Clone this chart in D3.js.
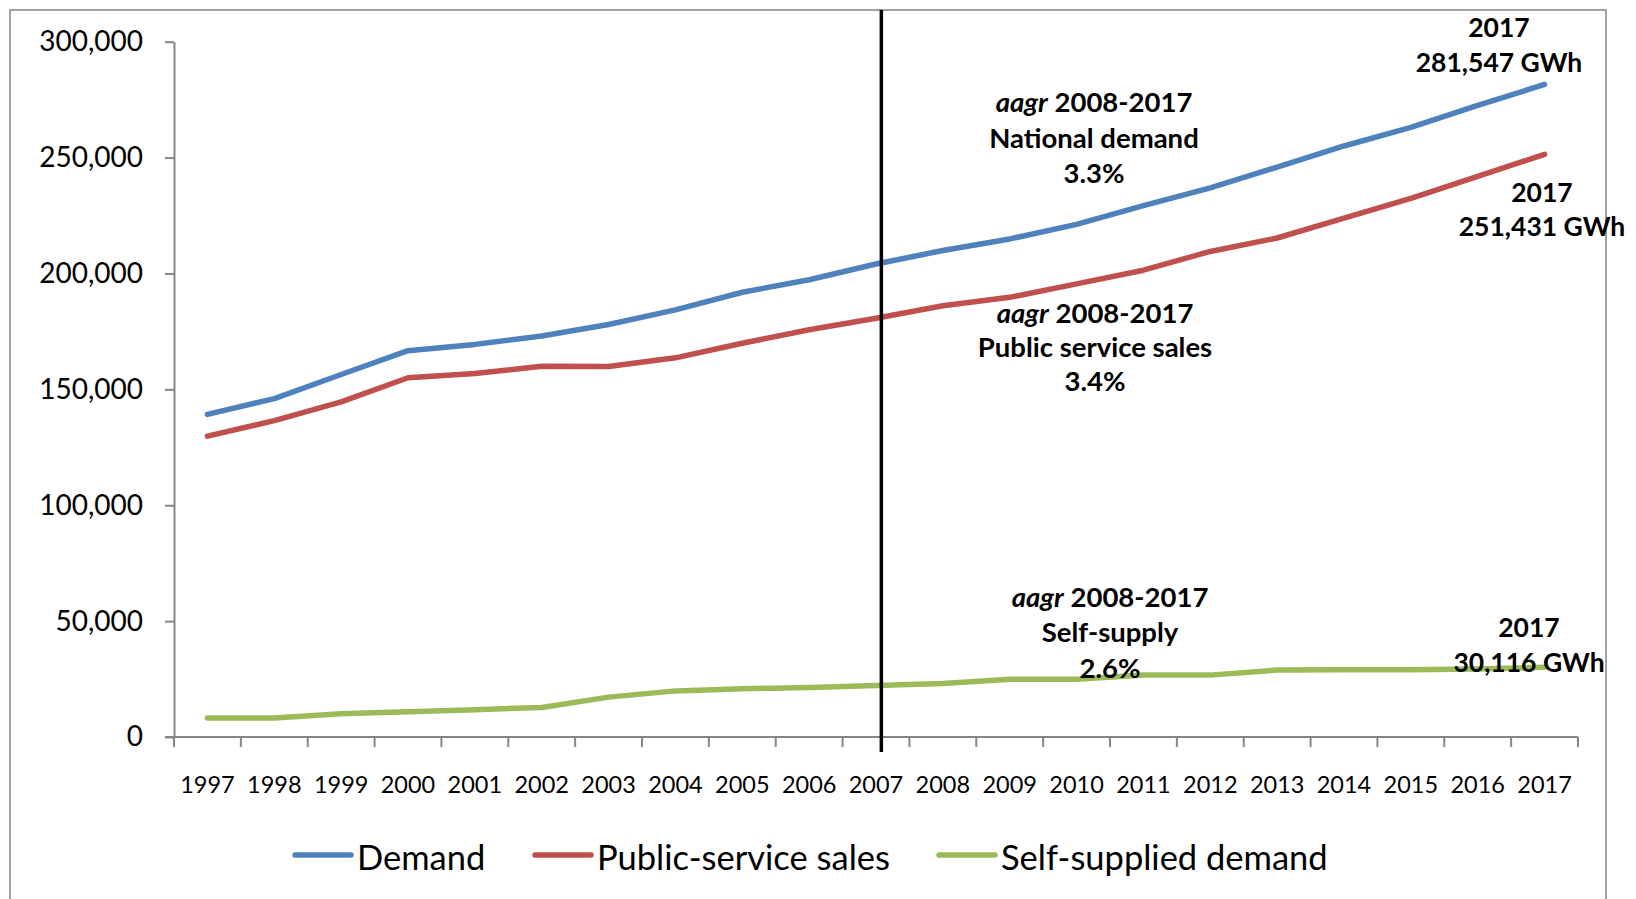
<!DOCTYPE html>
<html>
<head>
<meta charset="utf-8">
<script src="https://cdnjs.cloudflare.com/ajax/libs/d3/7.8.5/d3.min.js"></script>
<style>
  html, body { margin: 0; padding: 0; background: #fff; }
  svg { display: block; font-family: Lato, "Open Sans", sans-serif; }
</style>
</head>
<body>
<div class="graph"></div>
<script>
// values in GWh
var years = [1997,1998,1999,2000,2001,2002,2003,2004,2005,2006,2007,2008,2009,2010,2011,2012,2013,2014,2015,2016,2017];
var demand = [139200,146000,156400,166700,169400,173000,178000,184300,191900,197300,204100,209900,214900,221200,229300,236900,245900,255000,263000,272500,281547];
var publicSales = [129800,136500,144600,155000,156800,160000,159900,163600,169900,175700,180700,186100,189700,195500,201400,209500,215300,223900,232400,241900,251431];
var selfSupply = [8200,8200,10000,10900,11800,12700,17200,19900,20800,21400,22200,23100,24900,24900,26700,26700,28900,29000,29000,29300,30116];
var yTicks = [0,50000,100000,150000,200000,250000,300000];
var seriesNames = ["Demand","Public-service sales","Self-supplied demand"];
var seriesColors = ["#4f81bd","#c0504d","#9bbb59"];
var markYear = 2007;

var W = 1636, H = 899;
var plotL = 174, plotR = 1578, plotT = 41.7, plotB = 737;

var svg = d3.select(".graph").append("svg")
  .attr("width", W).attr("height", H);

// outer chart frame
svg.append("rect")
  .attr("x",10).attr("y",10).attr("width",1596).attr("height",H+20)
  .style("fill","none").style("stroke","#a0a0a0").style("stroke-width","2px");

var x = d3.scaleBand().domain(years).range([plotL, plotR]).padding(0);
var y = d3.scaleLinear().domain([0,300000]).range([plotB, plotT]);
var bw = x.bandwidth();
function xc(yr){ return x(yr) + bw/2; }

// y axis
var yAxis = d3.axisLeft(y).tickValues(yTicks).tickFormat(d3.format(","))
  .tickSize(9).tickSizeOuter(0).tickPadding(22);
var gy = svg.append("g").attr("transform","translate("+plotL+",0)").call(yAxis);
gy.select(".domain").style("stroke","#868686").style("stroke-width","2px");
gy.selectAll(".tick line").style("stroke","#868686").style("stroke-width","2px");
gy.selectAll(".tick text").style("font-size","28px").style("font-family","Lato").style("fill","#000");

// x axis line + ticks between categories
svg.append("line")
  .attr("x1",plotL-9).attr("x2",plotR).attr("y1",y(0)).attr("y2",y(0))
  .style("stroke","#868686").style("stroke-width","2px");
var bounds = years.map(function(d){ return x(d); }).concat([plotR]);
svg.selectAll(".xtick").data(bounds).enter().append("line")
  .attr("class","xtick")
  .attr("x1",function(d){ return d; }).attr("x2",function(d){ return d; })
  .attr("y1",y(0)).attr("y2",y(0)+10)
  .style("stroke","#868686").style("stroke-width","2px");
svg.selectAll(".xlab").data(years).enter().append("text")
  .attr("class","xlab")
  .attr("x",function(d){ return xc(d); })
  .attr("y",y(0)+56)
  .attr("text-anchor","middle")
  .style("font-size","23.5px")
  .text(function(d){ return d; });

// series lines
var line = d3.line()
  .x(function(d,i){ return xc(years[i]); })
  .y(function(d){ return y(d); });
[demand, publicSales, selfSupply].forEach(function(s,i){
  svg.append("path").datum(s)
    .attr("d", line)
    .style("fill","none")
    .style("stroke", seriesColors[i])
    .style("stroke-width","5.5px")
    .style("stroke-linejoin","round")
    .style("stroke-linecap","round");
});

// vertical marker after 2007
var mx = xc(markYear) + bw*0.08;
svg.append("line")
  .attr("x1",mx).attr("x2",mx).attr("y1",10).attr("y2",y(0)+15)
  .style("stroke","#000").style("stroke-width","3.5px");

// annotations
function note(cx, baseline, lines, step, fs){
  var t = svg.append("text")
    .attr("text-anchor","middle")
    .style("font-size",fs+"px").style("font-weight","bold");
  lines.forEach(function(l,i){
    var ts = t.append("tspan").attr("x",cx).attr("y",baseline + i*step);
    if(l.indexOf("aagr ")===0){
      ts.append("tspan").style("font-style","italic").text("aagr");
      ts.append("tspan").text(" "+l.slice(5));
    } else {
      ts.text(l);
    }
  });
}
note(1499, 37, ["2017", d3.format(",")(demand[demand.length-1])+" GWh"], 34.5, 26.5);
note(1542, 202, ["2017", d3.format(",")(publicSales[publicSales.length-1])+" GWh"], 34, 26.5);
note(1529, 637, ["2017", d3.format(",")(selfSupply[selfSupply.length-1])+" GWh"], 34.5, 26.5);
note(1094, 112, ["aagr 2008-2017","National demand","3.3%"], 35.5, 27.5);
note(1095, 323, ["aagr 2008-2017","Public service sales","3.4%"], 34.2, 27.5);
note(1110, 607, ["aagr 2008-2017","Self-supply","2.6%"], 35.3, 27.5);

// legend
var legX = [295, 535, 939];
seriesNames.forEach(function(n,i){
  var g = svg.append("g").attr("transform","translate("+legX[i]+",855)");
  g.append("line").attr("x1",0).attr("x2",56).attr("y1",0).attr("y2",0)
    .style("stroke",seriesColors[i]).style("stroke-width","5.5px").style("stroke-linecap","round");
  g.append("text").attr("x",62).attr("y",15).style("font-size","34.5px").text(n);
});
</script>
</body>
</html>
